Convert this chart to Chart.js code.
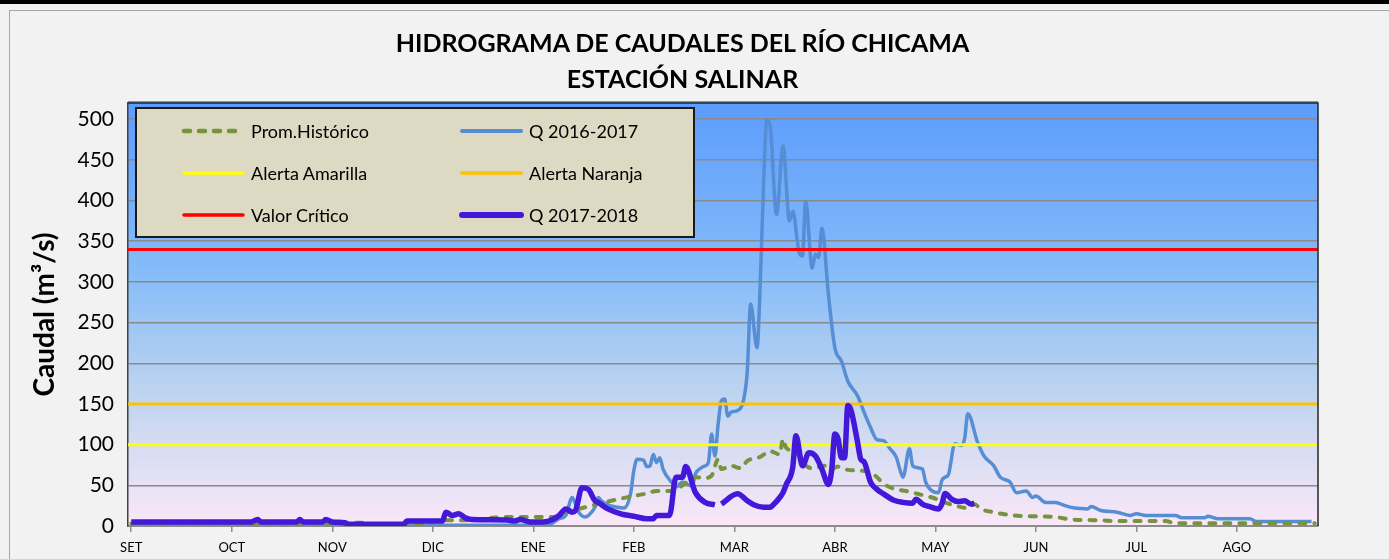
<!DOCTYPE html>
<html lang="es">
<head>
<meta charset="utf-8">
<title>Hidrograma de caudales del río Chicama</title>
<script src="https://cdn.jsdelivr.net/npm/chart.js@4.4.1/dist/chart.umd.min.js"></script>
<style>
  html, body { margin: 0; padding: 0; }
  body {
    width: 1389px; height: 559px; overflow: hidden; position: relative;
    background: #f2f2f2; font-family: Lato, "Open Sans", sans-serif;
  }
  #topBar { position: absolute; left: 0; top: 0; width: 1389px; height: 4px; background: #000; }
  #frame { position: absolute; left: 9px; top: 10px; width: 1420px; height: 600px; border: 1px solid #a6a6a6; }
  #hidrograma { position: absolute; left: 0; top: 0; }
  #title {
    position: absolute; left: 0; top: 24px; width: 1365px; text-align: center;
    font-size: 25px; font-weight: bold; line-height: 36px; color: #000;
  }
  #legend {
    position: absolute; left: 135px; top: 107px; width: 560px; height: 131px;
    box-sizing: border-box; border: 2px solid #1a1a1a; background: #ddd9c3;
    display: grid; grid-template-columns: 278px 278px; grid-auto-rows: 42px;
    padding: 1px 0 0 44px;
  }
  .item { display: flex; align-items: center; font-size: 18px; color: #000; white-space: nowrap; }
  .item svg { flex: none; margin-right: 4px; }
</style>
</head>
<body>
<div id="topBar"></div>
<div id="frame"></div>
<canvas id="hidrograma" width="1389" height="559"></canvas>
<div id="title"></div>
<div id="legend"></div>
<script>
const titleLines = ['HIDROGRAMA DE CAUDALES DEL RÍO CHICAMA', 'ESTACIÓN SALINAR'];
const months = ['SET', 'OCT', 'NOV', 'DIC', 'ENE', 'FEB', 'MAR', 'ABR', 'MAY', 'JUN', 'JUL', 'AGO'];
const tickDays = [1, 32, 63, 94, 125, 156, 187, 218, 249, 280, 311, 342];
const yTicks = [0, 50, 100, 150, 200, 250, 300, 350, 400, 450, 500];
const firstDay = 0;
const lastDay = 367;

// umbrales (m3/s)
const alertaAmarilla = 100;
const alertaNaranja = 150;
const valorCritico = 340;

// Prom. histórico
const histDays = [1, 30, 55, 62, 72, 76, 90, 98, 104, 112, 117, 131, 135, 139, 143, 149, 156, 160, 163, 168,
  172, 175, 178, 180, 182, 183, 186, 189, 191, 195, 198, 201, 202, 203, 206, 208, 211, 215, 217, 219,
  222, 226, 229, 231, 233, 236, 240, 244, 248, 252, 256, 259, 261, 263, 267, 273, 279, 286, 291, 300,
  305, 320, 323, 366];
const histValues = [3, 3, 2, 3, 4, 2, 3, 7, 7, 10, 11, 11, 17, 21, 25, 31, 37, 40, 43, 43,
  53, 60, 59, 62, 82, 70, 74, 71, 80, 85, 92, 88, 107, 96, 91, 78, 71, 74, 70, 73,
  69, 68, 66, 60, 52, 46, 43, 39, 35, 29, 24, 22, 27, 21, 17, 13, 12, 11, 8, 7,
  6, 6, 3.5, 3.5];

// Q 2016-2017
const q1617Days = [1, 40, 70, 100, 120, 130, 133, 135, 137, 138, 139, 141, 142, 144, 145, 146, 148, 151, 153, 155,
  156, 157, 159, 160, 161, 162, 163, 164, 165, 168, 169, 171, 172, 174, 175, 177, 178, 179, 180, 181,
  182, 183, 184, 185, 186, 188, 190, 191, 192, 194, 195, 196, 197, 198, 200, 202, 204, 205, 207, 208,
  209, 211, 212, 213, 214, 216, 218, 220, 222, 225, 227, 229, 231, 233, 235, 237, 238, 239, 241, 242,
  245, 246, 248, 250, 251, 252, 253, 255, 257, 258, 259, 262, 264, 267, 269, 272, 274, 277, 279, 280,
  283, 286, 289, 292, 296, 297, 300, 305, 309, 311, 314, 323, 325, 332, 333, 336, 346, 348, 365];
const q1617Values = [2, 1, 1, 1, 1, 2, 9, 13, 35, 27, 17, 11, 13, 23, 35, 31, 26, 23, 22, 40,
  68, 82, 81, 73, 74, 88, 78, 84, 70, 52, 48, 54, 52, 49, 64, 72, 74, 78, 113, 86,
  125, 154, 156, 135, 140, 142, 158, 191, 273, 219, 300, 420, 499, 493, 383, 467, 375, 387, 336, 332,
  399, 317, 334, 330, 366, 285, 219, 203, 178, 160, 140, 121, 106, 105, 95, 84, 70, 60, 95, 74,
  70, 54, 43, 41, 56, 60, 63, 101, 99, 107, 138, 103, 86, 74, 60, 54, 41, 43, 35, 37,
  29, 29, 25, 22, 21, 24, 19, 17, 13, 15, 13, 13, 10, 10, 12, 9, 9, 5.5, 5.5];

// Q 2017-2018 (null = sin dato)
const q1718Days = [1, 38, 40, 41, 52, 53, 54, 60, 61, 63, 67, 68, 85, 86, 97, 98, 100, 102, 104, 106,
  117, 119, 121, 124, 128, 131, 133, 135, 137, 138, 140, 142, 144, 145, 148, 152, 156, 160, 162, 163,
  167, 169, 171, 172, 175, 178, 181, 182, 183, 188, 191, 193, 196, 198, 199, 201, 202, 203, 205, 206,
  208, 210, 212, 214, 216, 217, 218, 219, 220, 221, 222, 223, 225, 226, 227, 229, 231, 233, 236, 239,
  242, 243, 245, 247, 250, 251, 252, 254, 256, 258, 260, 261];
const q1718Values = [5, 5, 8, 5, 5, 8, 5, 5, 8, 5, 4, 2, 2, 6, 6, 17, 13, 15, 10, 8,
  7.5, 6, 8, 5, 5, 8, 13, 21, 17, 19, 47, 45, 31, 29, 21, 15, 12, 9, 9, 13,
  13, 60, 60, 73, 41, 29, 26, null, 27, 39.5, 31, 26, 23, 23, 26, 35, 41, 51, 72, 111,
  74, 90, 86, 70, 51, 68, 113, 107, 84, 84, 148, 142, 103, 82, 79, 54, 45, 39.5, 32, 29,
  28, 33, 27, 24, 21, 27, 40, 33, 30, 31, 27, 28];

const toPoints = (days, values) => days.map((d, i) => ({ x: d, y: values[i] }));
const flatLine = (v) => [{ x: firstDay, y: v }, { x: lastDay, y: v }];

const fontFamily = 'Lato, "Open Sans", sans-serif';

document.getElementById('title').innerHTML = titleLines.join('<br>');

const plotBackground = {
  id: 'plotBackground',
  beforeDraw(chart) {
    const { ctx, chartArea: a } = chart;
    const g = ctx.createLinearGradient(0, a.top, 0, a.bottom);
    g.addColorStop(0, '#5c9cfd');
    g.addColorStop(0.4, '#85bcf9');
    g.addColorStop(0.7, '#c0d5ef');
    g.addColorStop(1, '#fae8f8');
    ctx.save();
    ctx.fillStyle = g;
    ctx.fillRect(a.left, a.top - 2, a.right - a.left, a.bottom - a.top + 2);
    ctx.restore();
  },
  afterDraw(chart) {
    const { ctx, chartArea: a } = chart;
    ctx.save();
    ctx.strokeStyle = '#262626';
    ctx.lineWidth = 1.5;
    ctx.beginPath();
    ctx.moveTo(a.left, a.top);
    ctx.lineTo(a.right, a.top);
    ctx.lineTo(a.right, a.bottom);
    ctx.stroke();
    ctx.restore();
  }
};

const datasets = [
  { label: 'Prom.Histórico', data: toPoints(histDays, histValues), borderColor: '#77933c',
    borderWidth: 4, borderDash: [6, 9], borderCapStyle: 'round', order: 1 },
  { label: 'Q 2016-2017', data: toPoints(q1617Days, q1617Values), borderColor: '#558ed5',
    borderWidth: 3.5, order: 5 },
  { label: 'Alerta Amarilla', data: flatLine(alertaAmarilla), borderColor: '#ffff00',
    borderWidth: 3, order: 4, cubicInterpolationMode: 'default' },
  { label: 'Alerta Naranja', data: flatLine(alertaNaranja), borderColor: '#ffc000',
    borderWidth: 3, order: 3, cubicInterpolationMode: 'default' },
  { label: 'Valor Crítico', data: flatLine(valorCritico), borderColor: '#ff0000',
    borderWidth: 3, order: 2, cubicInterpolationMode: 'default' },
  { label: 'Q 2017-2018', data: toPoints(q1718Days, q1718Values), borderColor: '#4318d9',
    borderWidth: 5.5, order: 0, spanGaps: false }
];

const chart = new Chart(document.getElementById('hidrograma'), {
  type: 'line',
  data: { datasets },
  options: {
    responsive: false,
    animation: false,
    layout: { padding: { left: 0, right: 71, top: 103, bottom: 0 } },
    elements: {
      point: { radius: 0, hoverRadius: 0 },
      line: { cubicInterpolationMode: 'monotone', borderJoinStyle: 'round' }
    },
    plugins: {
      legend: { display: false },
      tooltip: { enabled: false },
      title: { display: false }
    },
    scales: {
      x: {
        type: 'linear',
        min: firstDay,
        max: lastDay,
        afterBuildTicks: (s) => { s.ticks = tickDays.map(v => ({ value: v })); },
        afterFit: (s) => { s.height = 33; },
        ticks: {
          autoSkip: false, maxRotation: 0, padding: 8, color: '#000',
          font: { family: fontFamily, size: 13 },
          callback: (v, i) => months[i]
        },
        grid: { drawOnChartArea: false, drawTicks: true, tickLength: 6, color: '#8c8c8c', lineWidth: 1.5 },
        border: { color: '#8c8c8c', width: 2 }
      },
      y: {
        min: 0,
        max: 520,
        afterBuildTicks: (s) => { s.ticks = yTicks.map(v => ({ value: v })); },
        afterFit: (s) => { s.width = 128; },
        ticks: { padding: 14, color: '#000', font: { family: fontFamily, size: 21 } },
        grid: { color: '#8a8a8a', lineWidth: 1.6, drawTicks: false },
        border: { color: '#404040', width: 1.5 },
        title: {
          display: true,
          text: 'Caudal (m³/s)',
          color: '#000',
          font: { family: fontFamily, size: 28, weight: 'bold', lineHeight: 1.2 },
          padding: { top: 28, bottom: 0 }
        }
      }
    }
  },
  plugins: [plotBackground]
});

// leyenda en recuadro, 2 columnas x 3 filas
const legendBox = document.getElementById('legend');
chart.data.datasets.forEach(ds => {
  const dash = ds.borderDash ? `stroke-dasharray="${ds.borderDash.join(' ')}" stroke-linecap="round"` : 'stroke-linecap="round"';
  const item = document.createElement('div');
  item.className = 'item';
  item.innerHTML = `<svg width="66" height="10"><line x1="3" y1="5" x2="62" y2="5" stroke="${ds.borderColor}" stroke-width="${Math.min(ds.borderWidth + 0.5, 6)}" ${dash}/></svg><span>${ds.label}</span>`;
  legendBox.appendChild(item);
});
</script>
</body>
</html>
